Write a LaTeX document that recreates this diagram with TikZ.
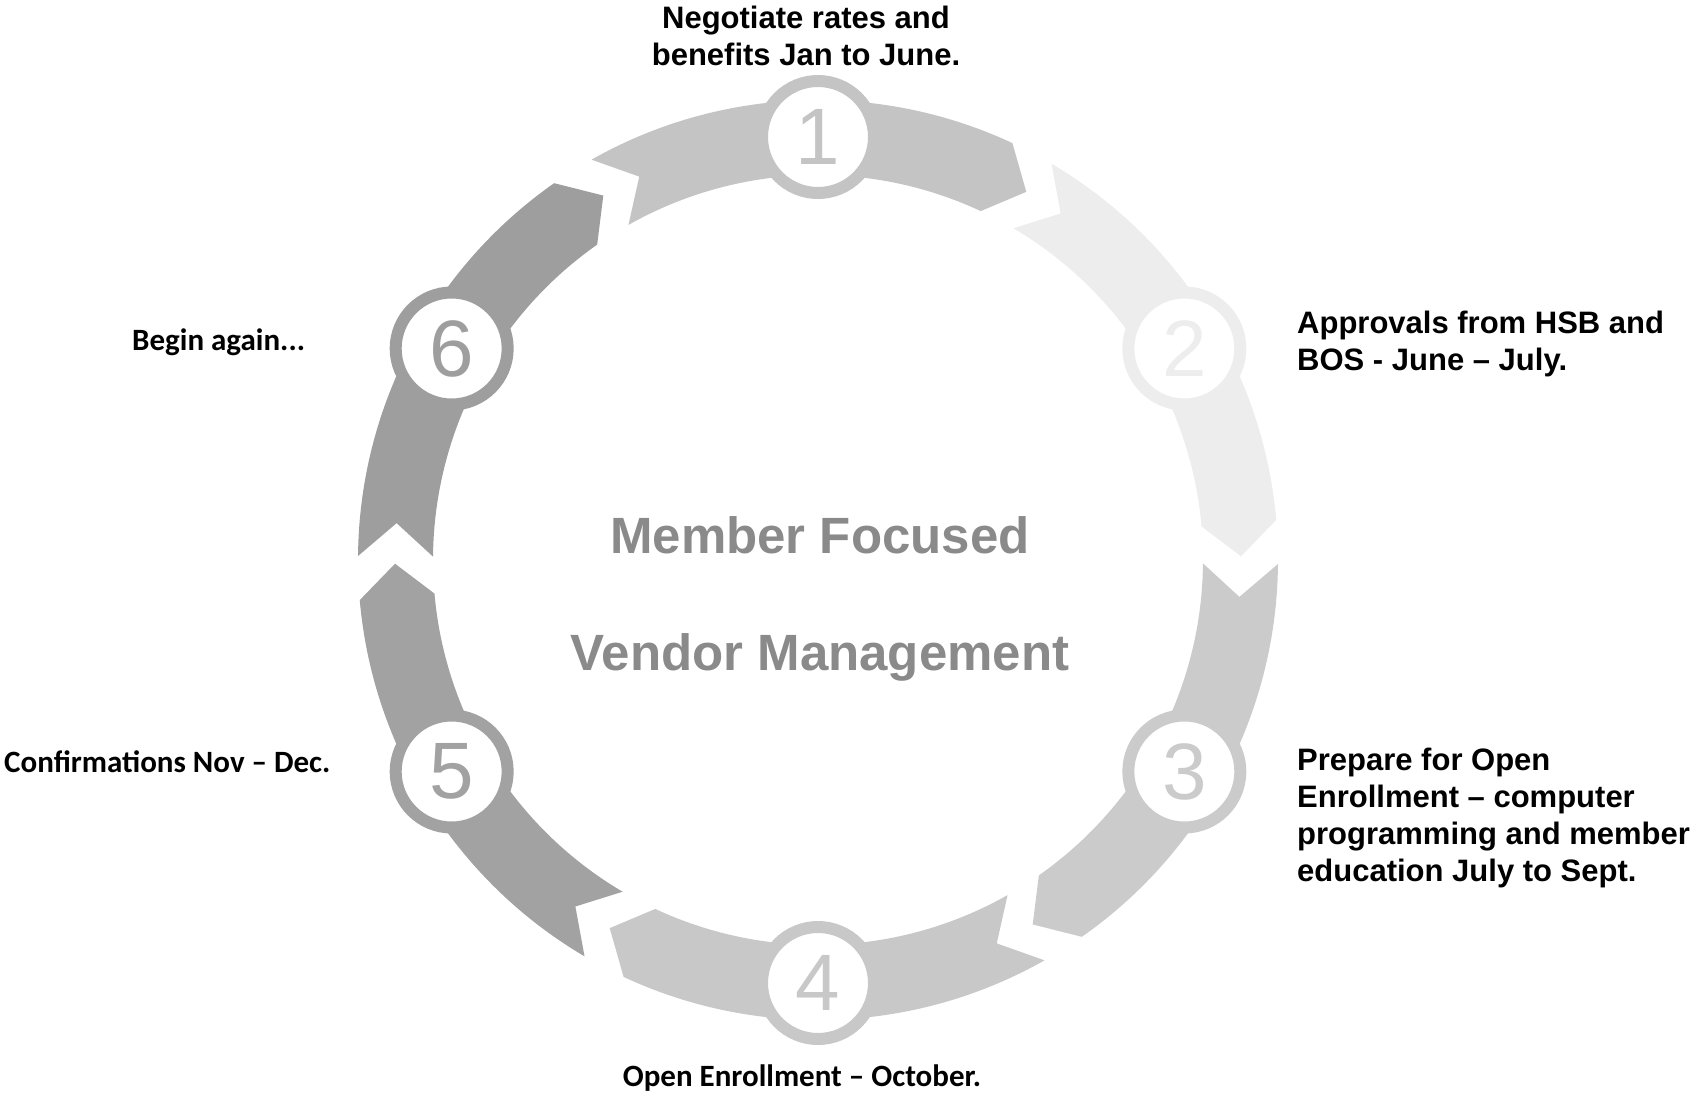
\documentclass[tikz,border=0pt]{standalone}
\usepackage{fontspec}
\setmainfont{Liberation Sans}
\newfontfamily\calibri[Ligatures=TeX]{Carlito}
\usetikzlibrary{calc}
\definecolor{segA}{HTML}{C4C4C4}
\definecolor{segB}{HTML}{EDEDED}
\definecolor{segC}{HTML}{CBCBCB}
\definecolor{segD}{HTML}{C8C8C8}
\definecolor{segE}{HTML}{A2A2A2}
\definecolor{segF}{HTML}{9E9E9E}
\definecolor{hubgray}{HTML}{8A8A8A}
\tikzset{
	steplabel/.style={font=\bfseries\fontsize{31}{37}\selectfont, align=left, inner sep=0pt},
	notelabel/.style={font=\calibri\bfseries\fontsize{31}{37}\selectfont, inner sep=0pt},
	numdisk/.style={circle, fill=white, line width=12pt, minimum size=112pt, inner sep=0pt, font=\fontsize{80}{80}\selectfont},
	hubtext/.style={font=\bfseries\fontsize{51}{51}\selectfont, text=hubgray, inner sep=0pt}
}

\begin{document}
\begin{tikzpicture}[x=1pt, y=1pt]
	\useasboundingbox (0,0) rectangle (1697,-1094);
	\coordinate (O) at (818,-560);
	\foreach \ang/\col/\num in {90/segA/1, 30/segB/2, -30/segC/3, -90/segD/4, -150/segE/5, 150/segF/6}{
		\fill[\col] ($(O)+(\ang+29.5:460)$) arc[start angle=\ang+29.5, end angle=\ang-25, radius=460]
			-- ($(O)+(\ang-29.5:423)$) -- ($(O)+(\ang-25:385)$)
			arc[start angle=\ang-25, end angle=\ang+29.5, radius=385]
			-- ($(O)+(\ang+25:423)$) -- cycle;
		\node[numdisk, draw=\col, text=\col] (n\num) at ($(O)+(\ang:423)$) {\num};
	}
	\node[hubtext] (hub1) at (820,-535) {Member Focused};
	\node[hubtext] (hub2) at (820,-657) {Vendor Management};
	\node[steplabel, align=center] (lab1) at (806,-36) {Negotiate rates and\\benefits Jan to June.};
	\node[steplabel, anchor=west] (lab2) at (1297,-344) {Approvals from HSB and\\BOS - June -- July.};
	\node[steplabel, anchor=west] (lab3) at (1297,-818) {Prepare for Open\\Enrollment -- computer\\programming and member\\education July to Sept.};
	\node[notelabel] (lab4) at (802,-1078) {Open Enrollment -- October.};
	\node[notelabel, anchor=west] (lab5) at (4,-762) {Confirmations Nov -- Dec.};
	\node[notelabel, anchor=west] (lab6) at (132,-342) {Begin again...};
\end{tikzpicture}
\end{document}
